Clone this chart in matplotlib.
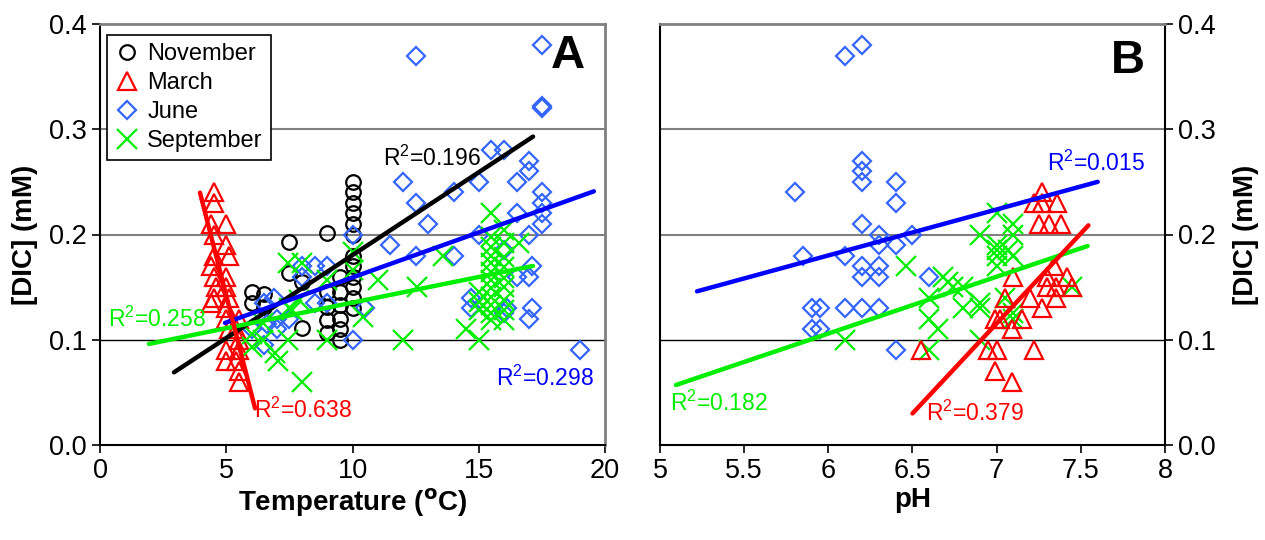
import numpy as np
import matplotlib
matplotlib.use("Agg")
import matplotlib.pyplot as plt

plt.rcParams["font.family"] = ["Liberation Sans", "DejaVu Sans"]
plt.rcParams["mathtext.fontset"] = "custom"
plt.rcParams["mathtext.rm"] = "Liberation Sans"
plt.rcParams["mathtext.default"] = "rm"

BLACK = "#000000"
RED = "#ff0000"
DIAMOND = "#3366ff"
BLUE = "#0000ff"
GREEN = "#00ee00"
GRID = "#808080"

# ---------- panel A : temperature (oC) vs [DIC] (mM) ---------------------------
nov_temp = [6.0, 6.0, 6.5, 6.5, 7.5, 7.5, 8.0, 8.0, 9.0, 9.0, 9.0, 9.0, 9.0,
            9.5, 9.5, 9.5, 9.5, 9.5, 9.5,
            10, 10, 10, 10, 10, 10, 10, 10, 10, 10, 10, 10]
nov_dic = [0.145, 0.135, 0.143, 0.131, 0.193, 0.163, 0.155, 0.111, 0.201,
           0.145, 0.131, 0.119, 0.106,
           0.16, 0.145, 0.133, 0.12, 0.11, 0.10,
           0.25, 0.24, 0.23, 0.22, 0.21, 0.20, 0.18, 0.17, 0.16, 0.15, 0.14, 0.13]

mar_temp = [4.5, 4.5, 4.4, 4.5, 4.5, 4.4, 4.5, 4.6, 4.5, 4.4,
            5.0, 5.0, 5.1, 5.0, 5.0, 5.1, 5.0, 5.0, 5.1, 5.0, 5.0,
            5.5, 5.4, 5.5, 5.5, 5.4, 5.5, 5.5]
mar_dic = [0.24, 0.23, 0.21, 0.20, 0.18, 0.17, 0.16, 0.15, 0.14, 0.135,
           0.21, 0.19, 0.18, 0.16, 0.15, 0.14, 0.13, 0.12, 0.11, 0.09, 0.08,
           0.12, 0.11, 0.10, 0.09, 0.08, 0.07, 0.06]

jun_temp = [6.0, 6.5, 6.5, 6.6, 6.9, 7.0, 7.0, 7.5, 8.0, 8.0, 8.5, 8.5, 9.0,
            9.0, 10.0, 10.0, 10.5, 11.5, 12.0, 12.5, 12.5, 12.5, 13.0, 14.0,
            14.0, 15.0, 15.0, 14.7, 14.7, 15.5, 16.0, 16.0, 16.1, 16.0, 16.5,
            16.5, 16.5, 17.0, 17.0, 17.0, 17.1, 17.0, 17.1, 17.0, 17.5, 17.5,
            17.5, 17.5, 17.5, 17.5, 17.5, 19.0]
jun_dic = [0.11, 0.135, 0.095, 0.115, 0.14, 0.12, 0.11, 0.12, 0.17, 0.16,
           0.17, 0.135, 0.17, 0.135, 0.20, 0.10, 0.13, 0.19, 0.25, 0.37,
           0.23, 0.18, 0.21, 0.24, 0.18, 0.25, 0.20, 0.14, 0.13, 0.28, 0.28,
           0.185, 0.13, 0.125, 0.25, 0.22, 0.16, 0.27, 0.26, 0.20, 0.17, 0.16,
           0.13, 0.12, 0.38, 0.32, 0.322, 0.24, 0.23, 0.22, 0.21, 0.09]

sep_temp = [6.0, 6.0, 6.45, 6.45, 6.95, 7.05, 7.45, 7.5, 7.45, 7.6, 7.9,
            8.0, 8.0, 9.0, 9.0, 10.0, 10.0, 10.4, 11.0, 12.0, 12.55, 13.6,
            14.5, 15.0, 15.0, 15.0, 15.0,
            15.5, 15.5, 15.5, 15.5, 15.5, 15.5, 15.5, 15.5, 15.5, 15.5, 15.5,
            15.5, 16.0, 16.0, 16.0, 16.0, 16.0, 16.0, 16.0, 16.0, 16.0, 16.6]
sep_dic = [0.105, 0.093, 0.116, 0.10, 0.087, 0.08, 0.173, 0.13, 0.10, 0.128,
           0.138, 0.173, 0.06, 0.157, 0.10, 0.183, 0.166, 0.122, 0.157, 0.10,
           0.15, 0.18, 0.11, 0.10, 0.145, 0.136, 0.128,
           0.22, 0.198, 0.188, 0.18, 0.173, 0.164, 0.157, 0.149, 0.141, 0.133,
           0.125, 0.119, 0.204, 0.192, 0.179, 0.169, 0.159, 0.15, 0.138,
           0.128, 0.119, 0.192]

# ---------- panel B : pH vs [DIC] (mM) ------------------------------------------
mar_ph = [6.55, 6.95, 7.0, 6.99, 7.09, 6.99, 7.02, 7.05, 7.09, 7.1, 7.15,
          7.2, 7.22, 7.22, 7.27, 7.27, 7.36, 7.25, 7.31, 7.38, 7.27, 7.3,
          7.34, 7.3, 7.35, 7.35, 7.42, 7.45]
mar_ph_dic = [0.09, 0.09, 0.09, 0.07, 0.06, 0.12, 0.12, 0.14, 0.11, 0.16,
              0.12, 0.14, 0.09, 0.23, 0.24, 0.23, 0.23, 0.21, 0.21, 0.21,
              0.13, 0.16, 0.17, 0.15, 0.15, 0.14, 0.16, 0.15]

jun_ph = [5.8, 5.85, 5.9, 5.95, 5.9, 5.95, 6.1, 6.1, 6.1, 6.2, 6.2, 6.2,
          6.2, 6.2, 6.2, 6.2, 6.2, 6.3, 6.3, 6.3, 6.3, 6.3, 6.4, 6.4, 6.4,
          6.4, 6.5, 6.6]
jun_ph_dic = [0.24, 0.18, 0.13, 0.13, 0.11, 0.11, 0.37, 0.18, 0.13, 0.38,
              0.27, 0.26, 0.25, 0.21, 0.17, 0.16, 0.13, 0.20, 0.19, 0.17,
              0.16, 0.13, 0.25, 0.23, 0.19, 0.09, 0.20, 0.16]

sep_ph = [6.1, 6.46, 6.6, 6.6, 6.65, 6.6, 6.68, 6.71, 6.74, 6.8, 6.8, 6.9,
          6.9, 6.9, 6.9, 7.0, 7.0, 7.0, 7.0, 7.0, 7.1, 7.1, 7.07, 7.1, 7.05,
          7.1, 7.1, 7.45]
sep_ph_dic = [0.10, 0.17, 0.14, 0.12, 0.11, 0.09, 0.16, 0.155, 0.15, 0.15,
              0.13, 0.135, 0.13, 0.20, 0.10, 0.22, 0.19, 0.185, 0.18, 0.17,
              0.21, 0.20, 0.185, 0.18, 0.14, 0.125, 0.12, 0.15]

# linear trend lines: (slope, intercept, x start, x end) and R2 text
fit_a = {
    "nov": (0.01575, 0.0229, 2.93, 17.15, "0.196"),
    "mar": (-0.094, 0.612, 3.96, 6.14, "0.638"),
    "jun": (0.00856, 0.0736, 4.95, 19.56, "0.298"),
    "sep": (0.00487, 0.0866, 1.94, 17.15, "0.258"),
}
fit_b = {
    "mar": (0.171, -1.0815, 6.50, 7.545, "0.379"),
    "jun": (0.0437, -0.0821, 5.22, 7.60, "0.015"),
    "sep": (0.054, -0.2181, 5.095, 7.54, "0.182"),
}

STYLE = {
    "nov": dict(marker="o", color=BLACK, line=BLACK, label="November", ms=10.5),
    "mar": dict(marker="^", color=RED, line=RED, label="March", ms=12.5),
    "jun": dict(marker="D", color=DIAMOND, line=BLUE, label="June", ms=9),
    "sep": dict(marker="x", color=GREEN, line=GREEN, label="September", ms=14),
}


def _scatter(ax, key, x, y):
    st = STYLE[key]
    if st["marker"] == "x":
        ax.plot(x, y, ls="none", marker="x", ms=st["ms"], mew=1.6,
                color=st["color"], label=st["label"], zorder=3)
    else:
        ax.plot(x, y, ls="none", marker=st["marker"], ms=st["ms"], mew=1.6,
                mfc="none", mec=st["color"], label=st["label"], zorder=3)


def _trend(ax, key, fit):
    slope, icpt, x0, x1, _ = fit
    xs = np.array([x0, x1])
    ax.plot(xs, slope * xs + icpt, color=STYLE[key]["line"], lw=3.2,
            solid_capstyle="round", zorder=4)


def _frame(ax):
    ax.set_ylim(0, 0.4)
    ax.set_yticks([0.0, 0.1, 0.2, 0.3, 0.4])
    ax.set_yticklabels(["0.0", "0.1", "0.2", "0.3", "0.4"])
    for v in (0.2, 0.3):
        ax.axhline(v, color=GRID, lw=1.5, zorder=1)
    ax.axhline(0.1, color=BLACK, lw=1.0, zorder=1)
    for s in ("top", "right"):
        ax.spines[s].set_color(GRID)
        ax.spines[s].set_linewidth(2.0)
    for s in ("left", "bottom"):
        ax.spines[s].set_linewidth(1.5)
    ax.tick_params(direction="out", length=6, width=1.2, labelsize=19.5)


fig = plt.figure(figsize=(12.65, 5.4), dpi=100)
axA = fig.add_axes([100 / 1265, 95 / 540, 505 / 1265, 421 / 540])
axB = fig.add_axes([660 / 1265, 95 / 540, 505 / 1265, 421 / 540])

# ---- A
_frame(axA)
axA.set_xlim(0, 20)
axA.set_xticks([0, 5, 10, 15, 20])
_scatter(axA, "nov", nov_temp, nov_dic)
_scatter(axA, "mar", mar_temp, mar_dic)
_scatter(axA, "jun", jun_temp, jun_dic)
_scatter(axA, "sep", sep_temp, sep_dic)
for k in ("nov", "jun", "sep", "mar"):
    _trend(axA, k, fit_a[k])

leg = axA.legend(loc="upper left", bbox_to_anchor=(0.014, 0.975), fontsize=17,
                 frameon=True, fancybox=False, edgecolor=BLACK, framealpha=1,
                 handlelength=1.0, handletextpad=0.35, borderpad=0.35,
                 labelspacing=0.3, borderaxespad=0)
leg.get_frame().set_linewidth(1.2)

axA.text(11.2, 0.272, "R$^2$=" + fit_a["nov"][4], fontsize=16.5, color=BLACK,
         ha="left", va="center")
axA.text(0.3, 0.119, "R$^2$=" + fit_a["sep"][4], fontsize=16.5, color=GREEN,
         ha="left", va="center")
axA.text(6.1, 0.033, "R$^2$=" + fit_a["mar"][4], fontsize=16.5, color=RED,
         ha="left", va="center")
axA.text(15.7, 0.063, "R$^2$=" + fit_a["jun"][4], fontsize=16.5, color=BLUE,
         ha="left", va="center")
axA.text(19.2, 0.37, "A", fontsize=34, fontweight="bold", ha="right",
         va="center")
axA.set_xlabel("Temperature ($\\mathbf{^o}$C)", fontsize=20, fontweight="bold",
               labelpad=2)
axA.set_ylabel("[DIC] (mM)", fontsize=20, fontweight="bold", labelpad=8)

# ---- B
_frame(axB)
axB.set_xlim(5, 8)
axB.set_xticks([5, 5.5, 6, 6.5, 7, 7.5, 8])
axB.set_xticklabels(["5", "5.5", "6", "6.5", "7", "7.5", "8"])
axB.spines["right"].set_color(BLACK)
axB.spines["right"].set_linewidth(1.5)
axB.yaxis.tick_right()
axB.yaxis.set_label_position("right")
_scatter(axB, "jun", jun_ph, jun_ph_dic)
_scatter(axB, "sep", sep_ph, sep_ph_dic)
_scatter(axB, "mar", mar_ph, mar_ph_dic)
for k in ("jun", "sep", "mar"):
    _trend(axB, k, fit_b[k])

axB.text(7.3, 0.268, "R$^2$=" + fit_b["jun"][4], fontsize=16.5, color=BLUE,
         ha="left", va="center")
axB.text(5.06, 0.04, "R$^2$=" + fit_b["sep"][4], fontsize=16.5, color=GREEN,
         ha="left", va="center")
axB.text(6.58, 0.03, "R$^2$=" + fit_b["mar"][4], fontsize=16.5, color=RED,
         ha="left", va="center")
axB.text(7.88, 0.365, "B", fontsize=34, fontweight="bold", ha="right",
         va="center")
axB.set_xlabel("pH", fontsize=20, fontweight="bold", labelpad=2)
axB.set_ylabel("[DIC] (mM)", fontsize=20, fontweight="bold", labelpad=12,
               rotation=90)

fig.savefig("out.png", dpi=100, facecolor="white")
